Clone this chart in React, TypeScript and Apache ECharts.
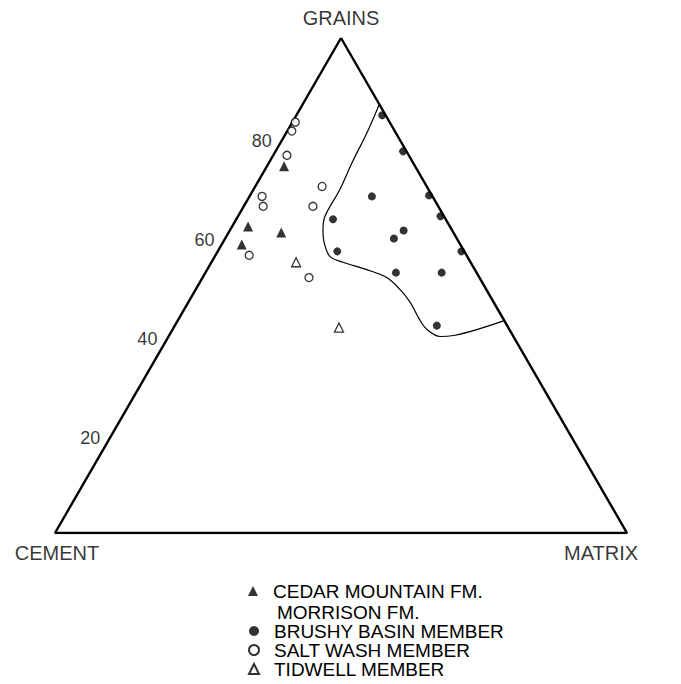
import React, { useEffect, useRef } from "react";
import * as echarts from "echarts";

// Ternary values are [GRAINS %, MATRIX %]; CEMENT = 100 - GRAINS - MATRIX
const cedarMountain: number[][] = [
  [74.1, 3.0],
  [61.9, 2.8],
  [60.7, 9.2],
  [58.3, 3.5],
];

const brushyBasin: number[][] = [
  [84.4, 15.0],
  [77.1, 22.3],
  [68.0, 21.4],
  [68.2, 31.3],
  [64.0, 35.4],
  [63.4, 16.9],
  [61.1, 30.4],
  [59.5, 29.5],
  [56.9, 20.9],
  [56.9, 42.6],
  [52.6, 33.3],
  [52.6, 41.3],
  [41.9, 45.8],
];

const saltWash: number[][] = [
  [83.0, 0.5],
  [81.2, 0.8],
  [76.3, 2.4],
  [68.0, 2.2],
  [66.0, 3.4],
  [70.0, 11.7],
  [66.0, 12.1],
  [56.1, 5.9],
  [51.6, 18.6],
];

const tidwell: number[][] = [
  [54.7, 14.8],
  [41.5, 28.9],
];

// Outline of the Brushy Basin field
const fieldBoundary: number[][] = [
  [86.6, 13.4],
  [81.0, 14.1],
  [75.1, 14.5],
  [69.4, 15.1],
  [64.0, 15.2],
  [61.3, 16.2],
  [58.7, 17.7],
  [55.9, 20.1],
  [54.7, 23.0],
  [53.2, 27.9],
  [51.6, 32.2],
  [49.2, 35.7],
  [46.6, 38.8],
  [43.1, 42.2],
  [41.1, 44.5],
  [39.7, 47.5],
  [39.9, 49.7],
  [41.1, 53.2],
  [42.9, 57.1],
];

const gridLevels: number[] = [20, 40, 60, 80];
const vertexNames: string[] = ["GRAINS", "CEMENT", "MATRIX"];
const vertexValues: number[][] = [
  [100, 0],
  [0, 0],
  [0, 100],
];
const seriesNames: string[] = [
  "CEDAR MOUNTAIN FM.",
  "BRUSHY BASIN MEMBER",
  "SALT WASH MEMBER",
  "TIDWELL MEMBER",
];
const subHeading = "MORRISON FM.";

const H = Math.sqrt(3) / 2;
const toXY = (p: number[]) => [p[1] / 100 + p[0] / 200, (p[0] / 100) * H];

const FONT = '"Liberation Sans", Arial, Helvetica, sans-serif';

export default function App() {
  const ref = useRef<HTMLDivElement>(null);
  useEffect(() => {
    if (!ref.current) return;
    const chart = echarts.init(ref.current, undefined, { renderer: "svg" });
    const frame = [vertexValues[0], vertexValues[1], vertexValues[2], vertexValues[0]].map(toXY);
    const vertexLabelCfg = [
      { position: "top", distance: 10, offset: [0, 0] },
      { position: "bottom", distance: 10, offset: [2, 0] },
      { position: "bottom", distance: 10, offset: [-26, 0] },
    ];
    const legendText = {
      fontSize: 19,
      fontFamily: FONT,
      color: "#000",
      padding: [0, 0, 0, 10],
    };
    const option: any = {
      animation: false,
      backgroundColor: "#fff",
      textStyle: { fontFamily: FONT, color: "#000" },
      grid: { left: 55, right: 54, top: 38, bottom: 151 },
      xAxis: { type: "value", min: 0, max: 1, show: false },
      yAxis: { type: "value", min: 0, max: H, show: false },
      legend: [
        {
          data: [seriesNames[0]],
          left: 248,
          top: 581.5,
          padding: 0,
          itemWidth: 10,
          itemHeight: 10,
          selectedMode: false,
          textStyle: legendText,
        },
        {
          data: seriesNames.slice(1),
          orient: "vertical",
          left: 248,
          top: 621.5,
          padding: 0,
          itemGap: 0,
          itemWidth: 10,
          itemHeight: 10,
          selectedMode: false,
          textStyle: legendText,
        },
      ],
      graphic: [
        {
          type: "text",
          left: 277,
          top: 602.5,
          style: { text: subHeading, font: `19px ${FONT}`, lineHeight: 16, fill: "#000" },
        },
      ],
      series: [
        {
          type: "line",
          name: "frame",
          data: frame,
          symbol: "none",
          silent: true,
          lineStyle: { color: "#000", width: 2.4 },
          z: 1,
        },
        {
          type: "line",
          name: "field",
          data: fieldBoundary.map(toXY),
          symbol: "none",
          smooth: 0.35,
          silent: true,
          lineStyle: { color: "#000", width: 1.2 },
          z: 1,
        },
        {
          type: "scatter",
          name: seriesNames[0],
          data: cedarMountain.map(toXY),
          symbol: "triangle",
          symbolSize: 10,
          itemStyle: { color: "#000" },
          z: 3,
        },
        {
          type: "scatter",
          name: seriesNames[1],
          data: brushyBasin.map(toXY),
          symbol: "circle",
          symbolSize: 8,
          itemStyle: { color: "#000" },
          z: 3,
        },
        {
          type: "scatter",
          name: seriesNames[2],
          data: saltWash.map(toXY),
          symbol: "circle",
          symbolSize: 8,
          itemStyle: { color: "#fff", borderColor: "#000", borderWidth: 1.3 },
          z: 3,
        },
        {
          type: "scatter",
          name: seriesNames[3],
          data: tidwell.map(toXY),
          symbol: "triangle",
          symbolSize: 9,
          itemStyle: { color: "#fff", borderColor: "#000", borderWidth: 1.3 },
          z: 3,
        },
        {
          type: "scatter",
          name: "ticks",
          silent: true,
          symbolSize: 0,
          data: gridLevels.map((g) => ({ name: String(g), value: toXY([g, 0]) })),
          label: {
            show: true,
            formatter: "{b}",
            position: "left",
            distance: 12,
            offset: [0, 4],
            fontSize: 18,
            fontFamily: FONT,
            color: "#000",
          },
        },
        {
          type: "scatter",
          name: "vertices",
          silent: true,
          symbolSize: 0,
          data: vertexNames.map((n, i) => ({
            name: n,
            value: toXY(vertexValues[i]),
            label: vertexLabelCfg[i],
          })),
          label: {
            show: true,
            formatter: "{b}",
            fontSize: 20,
            fontFamily: FONT,
            color: "#000",
          },
        },
      ],
    };
    chart.setOption(option);
    return () => chart.dispose();
  }, []);
  return (
    <div
      ref={ref}
      style={{ position: "absolute", left: 0, top: 0, width: 681, height: 684, background: "#fff" }}
    />
  );
}
